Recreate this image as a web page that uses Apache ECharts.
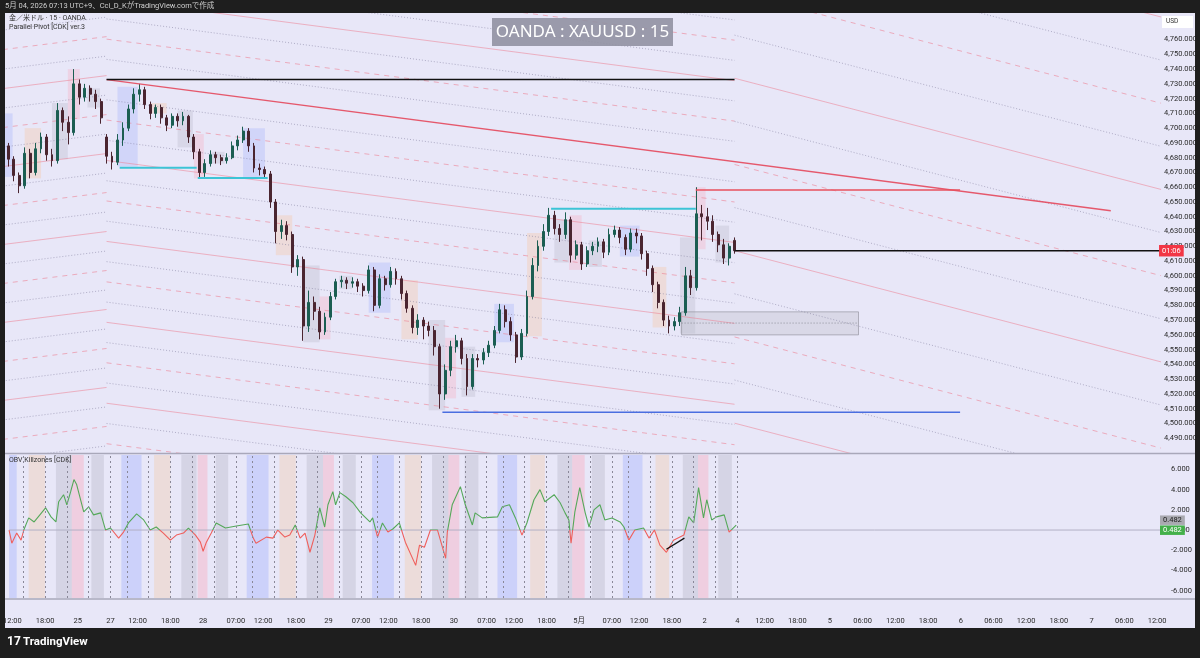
<!DOCTYPE html>
<html><head><meta charset="utf-8">
<script src="https://cdn.jsdelivr.net/npm/echarts@6/dist/echarts.min.js"></script>
<style>html,body{margin:0;padding:0;background:#1e1e1e}#c{width:1200px;height:658px}</style>
</head><body><div id="c"></div>
<script>
// ---------- DATA (hour index: 0 = Apr 25 00:00 JST, session hours only) ----------
const candleStartHour = -13;
// [open, close, low, high] one row per hour
const ohlc = [
[4696,4688,4683,4699],[4688,4679,4674,4690],[4679,4668,4664,4681],[4668,4661,4656,4670],[4661,4683,4659,4687],
[4683,4670,4666,4686],[4670,4686,4668,4690],[4686,4694,4683,4697],[4694,4682,4678,4696],[4682,4678,4674,4686],
[4678,4712,4676,4717],[4712,4704,4698,4714],[4704,4697,4689,4708],[4697,4730,4695,4740],[4730,4721,4716,4733],
[4721,4727,4718,4730],[4727,4723,4718,4729],[4723,4718,4713,4726],[4718,4707,4703,4720],
[4694,4681,4676,4696],[4681,4677,4672,4684],[4677,4692,4675,4696],[4692,4700,4688,4704],[4700,4713,4698,4716],
[4713,4723,4710,4727],[4723,4726,4718,4730],[4726,4716,4713,4728],[4716,4710,4706,4718],[4710,4714,4707,4716],
[4714,4707,4703,4716],[4707,4702,4698,4709],[4702,4708,4700,4710],[4708,4705,4701,4710],[4705,4708,4702,4711],
[4708,4694,4690,4709],[4694,4684,4679,4696],[4684,4670,4666,4686],[4670,4676,4667,4679],[4676,4682,4674,4685],
[4682,4680,4676,4684],[4680,4678,4675,4682],[4678,4680,4676,4683],[4680,4688,4679,4691],[4688,4692,4685,4695],
[4692,4698,4690,4701],[4698,4688,4684,4700],[4688,4673,4670,4690],[4673,4672,4668,4676],[4672,4669,4666,4674],
[4669,4650,4646,4671],[4650,4630,4622,4652],[4630,4634,4625,4638],[4634,4628,4624,4637],[4628,4606,4602,4630],
[4606,4611,4600,4614],[4611,4566,4556,4613],[4566,4582,4562,4590],[4582,4576,4570,4586],[4576,4562,4557,4579],
[4562,4572,4560,4575],[4572,4586,4570,4589],[4586,4596,4584,4598],[4596,4597,4592,4600],[4597,4595,4591,4599],
[4595,4596,4592,4599],[4596,4593,4589,4598],[4593,4590,4586,4595],[4590,4604,4588,4607],[4604,4580,4576,4606],
[4580,4598,4578,4601],[4598,4594,4590,4600],[4594,4603,4592,4606],[4603,4598,4594,4605],[4598,4588,4584,4600],
[4588,4578,4575,4590],[4578,4565,4561,4580],[4565,4570,4560,4574],[4570,4566,4557,4572],[4566,4563,4559,4569],
[4563,4552,4546,4566],[4552,4520,4510,4554],[4520,4536,4516,4540],[4536,4552,4532,4556],[4552,4556,4548,4560],
[4556,4544,4540,4558],[4544,4525,4519,4547],[4525,4544,4523,4547],[4544,4543,4538,4547],[4543,4548,4540,4551],
[4548,4553,4545,4556],[4553,4563,4551,4566],[4563,4577,4561,4581],[4577,4569,4565,4580],[4569,4560,4556,4572],
[4560,4545,4541,4562],[4545,4561,4543,4564],[4561,4586,4559,4590],[4586,4607,4584,4612],[4607,4620,4603,4624],
[4620,4630,4617,4635],[4630,4641,4627,4646],[4641,4632,4628,4644],[4632,4628,4623,4635],[4628,4638,4625,4643],
[4638,4614,4609,4640],[4614,4621,4611,4624],[4621,4608,4604,4623],[4608,4617,4606,4620],[4617,4620,4614,4623],
[4620,4623,4616,4626],[4623,4616,4612,4625],[4616,4628,4614,4632],[4628,4631,4626,4634],[4631,4626,4622,4633],
[4626,4618,4614,4628],[4618,4629,4616,4632],[4629,4627,4622,4632],[4627,4615,4611,4629],[4615,4605,4600,4617],
[4605,4594,4589,4607],[4594,4582,4578,4596],[4582,4570,4566,4584],[4570,4566,4561,4573],[4566,4569,4563,4572],
[4569,4575,4566,4579],[4575,4600,4573,4606],[4600,4592,4587,4604],[4592,4642,4590,4660],[4642,4640,4624,4648],
[4640,4637,4631,4646],[4637,4628,4623,4641],[4628,4621,4616,4630],[4621,4612,4608,4625],[4612,4620,4607,4622],
[4624,4617,4615,4626]
];
const obvTime = [-12.6,-12.1,-11.2,-10.4,-9.9,-9.0,-8.0,-5.9,-4.9,-4.0,-3.5,-2.6,-2.0,-1.3,-0.7,-0.2,1.1,2.0,2.9,4.2,5.1,6.0,7.5,8.4,9.3,10.8,12.1,13.3,14.4,15.7,17.0,18.1,19.4,20.3,21.6,22.5,23.0,23.6,24.5,25.4,27.1,29.1,31.3,32.2,32.7,34.6,35.8,36.7,38.0,38.9,39.9,40.8,41.7,42.6,43.5,44.4,45.3,45.9,46.8,47.3,48.1,49.2,50.5,51.9,53.6,54.1,55.0,55.9,56.9,57.8,59.0,60.1,62.0,62.7,63.6,64.7,66.0,66.9,67.5,67.8,68.7,69.7,70.2,71.1,72.4,72.9,74.2,77.0,77.9,79.2,80.3,81.5,82.4,83.7,84.8,85.7,87.4,88.5,89.4,90.1,90.5,91.2,92.1,93.1,93.8,94.7,95.8,96.7,98.0,99.5,100.2,101.1,102.2,103.8,104.8,105.8,106.8,108.0,109.3,111.2,112.1,113.0,113.9,114.8,115.4,116.3,117.2,118.6,119.5,120.8];
const obvValue = [0,-1.3,-0.3,-1.0,0,1.2,0.8,2.2,1.3,0.8,2.8,3.5,2.5,3.8,5.0,4.5,1.8,2.3,1.5,1.7,0,0.2,-0.8,-0.2,0.7,1.6,1.0,0,0.3,-0.3,-1.0,-0.5,-0.3,0.2,-0.5,-1.2,-2.1,-1.2,-0.3,0.7,0.2,0.4,0.6,-0.8,-1.3,-0.7,-0.8,0,-0.7,-0.5,0.5,-0.8,-0.3,-2.2,-0.5,2.2,0.3,2.5,3.8,2.5,3.7,3.3,2.7,1.7,0.8,1.2,-0.7,0.7,-0.2,0.1,0.7,-1.2,-3.5,-1.5,-1.7,0,0,-1.7,-2.8,-0.2,2.5,3.7,4.3,2.5,0.5,1.7,1.2,1.3,2.3,2.5,1.2,-0.5,0.7,3.0,4.0,2.8,3.5,2.7,1.7,1.0,-1.3,1.8,4.2,1.7,0.3,2.0,2.5,1.0,1.2,0.8,0.3,-1.0,0,0.2,-0.8,0,-1.5,-2.2,-1.0,-0.5,1.3,0.7,4.2,1.2,3.0,1.0,1.3,1.5,-0.2,0.482];
const obvLast = 0.482;
const tickHour = [-12,-6,0,6,11,17,23,29,34,40,46,52,57,63,69,75,80,86,92,98,103,109,115,121,126,132,138,144,150,156,162,168,174,180,186,192,198];
const tickLabel = ['12:00','18:00','25','27','12:00','18:00','28','07:00','12:00','18:00','29','07:00','12:00','18:00','30','07:00','12:00','18:00','5月','07:00','12:00','18:00','2','4','12:00','18:00','5','06:00','12:00','18:00','6','06:00','12:00','18:00','7','06:00','12:00'];
const obvTicks = [-6,-4,-2,0,2,4,6];
// killzone sessions
const sessionStart = [-15,-9,-4,-1.1,2.5, 8,14,19,22,25.3, 31,37,42,45,48.6, 54,60,65,68,71, 77,83,88,90.7,94.3, 100,106,111,113.8,117.5];
const sessionEnd   = [-11.2,-6,-1.1,1.1,4.8, 11.7,17,21.8,23.8,27.6, 35,40,45,47,51, 58,63,68,70,73.5, 80.6,85.7,90.7,93,96.7, 103.6,108.5,113.8,115.7,120];
const sessionKind  = ['b','o','g','r','g', 'b','o','g','r','g', 'b','o','g','r','g', 'b','o','g','r','g', 'b','o','g','r','g', 'b','o','g','r','g'];
const sessionLow   = [4667,4666,4679,4706,4714, 4674,4710,4687,4666,4676, 4666,4614,4555,4557,4591, 4575,4557,4509,4517,4518, 4555,4559,4609,4604,4606, 4613,4565,4561,4618,4609];
const sessionHigh  = [4710,4700,4717,4740,4727, 4728,4717,4712,4696,4684, 4700,4641,4607,4586,4600, 4609,4597,4570,4558,4552, 4581,4629,4638,4641,4624, 4634,4606,4626,4660,4634];
const dashHour = [-10,-6,-2,2,6,9,13,17,21,25,29,32,36,40,44,48,52,55,59,63,67,71,75,78,82,86,90,94,98,101,105,109,113,117,121];
// parallel pivot channels (three legs)
const channelStartHour  = [-13, 6, 121];
const channelEndHour    = [6, 121, 199.1];
const channelStartPrice = [4726.8, 4732.9, 4617];
const channelEndPrice   = [4735.6, 4677.4, 4541.7];
const channelStep       = [13.2, 13.7, 29.2];
const channelKMin = [-5, -8, -9];
const channelKMax = [20, 19, 5];
const trendHour  = [6, 189.9];
const trendPrice = [4732.9, 4644.1];
// horizontal levels
const levelStartHour = [6, 8.4, 22.7, 87.4, 113.9, 67.5];
const levelEndHour   = [121, 22.5, 35.5, 113.9, 162.3, 162.3];
const levelPrice     = [4733, 4673.2, 4666.2, 4645.4, 4658.1, 4507.6];
const lastPrice = 4617, lastHour = 121;
const lastPriceLabel = '01:06';
const zoneHour = [111.3, 143.7];
const zonePrice = [4560, 4575.6, 4568];
const obvSegHour = [108, 111.3];
const obvSegValue = [-1.9, -0.8];

// ---------- STYLE ----------
const BG = '#e8e7f8';
const FONT = 'Roboto, "Noto Sans CJK JP", sans-serif';
const levelColor = ['#111111','#3cc4d6','#3cc4d6','#3cc4d6','#e8505e','#4a6ee0'];
const levelWidth = [1.5,2,2,2,1.5,1.5];
const kindMain = {b:'rgba(120,145,255,0.20)', o:'rgba(250,190,140,0.28)', g:'rgba(160,160,178,0.22)', r:'rgba(255,140,165,0.22)'};
const kindBand = {b:'rgba(120,145,255,0.25)', o:'rgba(245,195,150,0.30)', g:'rgba(165,165,180,0.28)', r:'rgba(255,150,170,0.30)'};
const xMin = -12.6, xMax = 199.1;
const obvMin = -6.73, obvMax = 7.43;
const IND_TOP = 455, IND_H = 143;

const chart = echarts.init(document.getElementById('c'));

const candleData = ohlc.map((r, i) => [candleStartHour + i, r[0], r[1], r[2], r[3]]);
const obvData = obvTime.map((t, i) => [t, obvValue[i]]);

function channelSeries(seg) {
  const buckets = {solid: [], dashed: [], dotted: []};
  for (let k = channelKMin[seg]; k <= channelKMax[seg]; k++) {
    if (seg === 1 && k === 0) continue;
    const m = ((k % 4) + 4) % 4;
    const key = m === 0 ? 'solid' : (m === 2 ? 'dashed' : 'dotted');
    const off = channelStep[seg] * k;
    buckets[key].push([channelStartHour[seg], channelStartPrice[seg] - off],
                      [channelEndHour[seg], channelEndPrice[seg] - off],
                      [channelEndHour[seg], '-']);
  }
  const st = {
    solid: {color: 'rgba(236,130,148,0.55)', type: 'solid'},
    dashed: {color: 'rgba(236,130,148,0.6)', type: [5, 5]},
    dotted: {color: 'rgba(120,115,150,0.5)', type: [1, 2]}
  };
  return Object.keys(buckets).map(key => ({
    type: 'line', xAxisIndex: 0, yAxisIndex: 0, data: buckets[key], showSymbol: false, symbol: 'none',
    connectNulls: false, silent: true, z: 2,
    lineStyle: {width: 1, color: st[key].color, type: st[key].type}
  }));
}

const mainBoxes = sessionStart.map((s, i) => [
  {coord: [s, sessionLow[i]], itemStyle: {color: kindMain[sessionKind[i]]}},
  {coord: [sessionEnd[i], sessionHigh[i]]}
]);
mainBoxes.push([
  {coord: [zoneHour[0], zonePrice[0]], itemStyle: {color: 'rgba(190,190,200,0.35)', borderColor: 'rgba(140,140,150,0.6)', borderWidth: 1}},
  {coord: [zoneHour[1], zonePrice[1]]}
]);
const bands = sessionStart.map((s, i) => [
  {xAxis: s, itemStyle: {color: kindBand[sessionKind[i]]}}, {xAxis: sessionEnd[i]}
]);
const vLines = dashHour.map(t => ({xAxis: t, label: {show: false}, lineStyle: {color: '#8a8898', type: [2, 3], width: 1}}));
const hiddenLine = {color: 'rgba(0,0,0,0)', width: 0};
const valLabels = [
  {yAxis: obvLast, lineStyle: hiddenLine, label: {show: true, position: 'end', formatter: obvLast.toFixed(3), backgroundColor: '#a9a9b0', color: '#222', fontSize: 7.5, padding: [1, 3], distance: 0, offset: [-3, -5], fontFamily: FONT}},
  {yAxis: obvLast, lineStyle: hiddenLine, label: {show: true, position: 'end', formatter: obvLast.toFixed(3), backgroundColor: '#43b04a', color: '#fff', fontSize: 7.5, padding: [1, 3], distance: 0, offset: [-3, 5], fontFamily: FONT}}
];

const levelSeries = levelStartHour.map((s, i) => ({
  type: 'line', xAxisIndex: 0, yAxisIndex: 0, showSymbol: false, symbol: 'none', silent: true, z: 4,
  data: [[s, levelPrice[i]], [levelEndHour[i], levelPrice[i]]],
  lineStyle: {color: levelColor[i], width: levelWidth[i]}
}));
levelSeries[0].markArea = {silent: true, data: mainBoxes};

const comma = v => String(Math.round(v)).replace(/\B(?=(\d{3})+(?!\d))/g, ',');
const zeroStop = obvMax / (obvMax - obvMin);
const obvGradient = new echarts.graphic.LinearGradient(0, IND_TOP, 0, IND_TOP + IND_H, [
  {offset: 0, color: '#55a85a'}, {offset: zeroStop, color: '#55a85a'},
  {offset: zeroStop, color: '#ef5f5c'}, {offset: 1, color: '#ef5f5c'}
], true);

const option = {
  backgroundColor: BG,
  animation: false,
  textStyle: {fontFamily: FONT},
  grid: [
    {left: 5, top: 13, width: 1158, height: 440},
    {left: 5, top: IND_TOP, width: 1158, height: IND_H}
  ],
  xAxis: [
    {type: 'value', gridIndex: 0, min: xMin, max: xMax, show: false},
    {type: 'value', gridIndex: 1, min: xMin, max: xMax,
     axisLine: {show: false}, axisTick: {show: false}, splitLine: {show: false},
     axisLabel: {customValues: tickHour, margin: 19, fontSize: 7.5, color: '#2a2a2a', fontFamily: FONT,
       formatter: v => { const i = tickHour.indexOf(v); return i >= 0 ? tickLabel[i] : ''; }}}
  ],
  yAxis: [
    {type: 'value', gridIndex: 0, position: 'right', min: 4480, max: 4778, interval: 10,
     axisLine: {show: false}, axisTick: {show: false}, splitLine: {show: false},
     axisLabel: {margin: 3, fontSize: 7.5, color: '#2a2a2a', fontFamily: FONT,
       formatter: v => (v < 4490 || v > 4760) ? '' : comma(v) + '.000'}},
    {type: 'value', gridIndex: 1, position: 'right', min: obvMin, max: obvMax,
     axisLine: {show: false}, axisTick: {show: false}, splitLine: {show: false},
     axisLabel: {customValues: obvTicks, margin: 8, fontSize: 7.5, color: '#2a2a2a', fontFamily: FONT,
       formatter: v => Number(v).toFixed(3)}}
  ],
  series: [
    {type: 'line', xAxisIndex: 1, yAxisIndex: 1, data: [[xMin, 0], [xMax, 0]], showSymbol: false, symbol: 'none', silent: true,
     lineStyle: {color: '#b3b1c6', width: 1}, z: 2,
     markArea: {silent: true, data: bands},
     markLine: {silent: true, symbol: ['none', 'none'], z: 20, data: vLines.concat(valLabels)}},
    {type: 'line', name: 'OBV', xAxisIndex: 1, yAxisIndex: 1, data: obvData, showSymbol: false, symbol: 'none',
     lineStyle: {width: 1.1, color: obvGradient}, z: 4, silent: true},
    {type: 'line', xAxisIndex: 1, yAxisIndex: 1, data: obvSegHour.map((t, i) => [t, obvSegValue[i]]), showSymbol: false, symbol: 'none',
     silent: true, lineStyle: {color: '#111', width: 1.3}, z: 5},
    {type: 'candlestick', xAxisIndex: 0, yAxisIndex: 0, data: candleData, encode: {x: 0, y: [1, 2, 3, 4]},
     barWidth: 2.4, z: 3, silent: true,
     itemStyle: {color: '#1b5e52', color0: '#4a2530', borderColor: '#1b5e52', borderColor0: '#4a2530', borderWidth: 1}},
    ...channelSeries(0), ...channelSeries(1), ...channelSeries(2),
    {type: 'line', xAxisIndex: 0, yAxisIndex: 0, data: trendHour.map((t, i) => [t, trendPrice[i]]), showSymbol: false, symbol: 'none',
     silent: true, z: 4, lineStyle: {color: 'rgba(228,72,92,0.9)', width: 1.4}},
    ...levelSeries,
    {type: 'line', xAxisIndex: 0, yAxisIndex: 0, data: [[zoneHour[0], zonePrice[2]], [zoneHour[1], zonePrice[2]]], showSymbol: false, symbol: 'none',
     silent: true, z: 4, lineStyle: {color: 'rgba(110,110,120,0.7)', width: 1, type: [1, 2]}},
    {type: 'line', xAxisIndex: 0, yAxisIndex: 0, data: [[lastHour, lastPrice], [xMax, lastPrice]], showSymbol: false, symbol: 'none',
     silent: true, z: 6, lineStyle: {color: '#111', width: 1.5},
     markLine: {silent: true, symbol: ['none', 'none'], z: 20, data: [
       {yAxis: lastPrice, lineStyle: hiddenLine, label: {show: true, position: 'end', formatter: lastPriceLabel, backgroundColor: '#f23645', color: '#fff', fontSize: 7.5, padding: [2, 3], distance: 0, offset: [-2, 0], fontFamily: FONT}}
     ]}}
  ],
  graphic: [
    {type: 'rect', z: 100, shape: {x: 0, y: 0, width: 1200, height: 13}, style: {fill: '#1e1e1e'}},
    {type: 'rect', z: 100, shape: {x: 0, y: 628, width: 1200, height: 30}, style: {fill: '#1e1e1e'}},
    {type: 'rect', z: 100, shape: {x: 0, y: 0, width: 5, height: 658}, style: {fill: '#1e1e1e'}},
    {type: 'rect', z: 100, shape: {x: 1195, y: 0, width: 5, height: 658}, style: {fill: '#1e1e1e'}},
    {type: 'line', z: 100, shape: {x1: 5, y1: 453.5, x2: 1195, y2: 453.5}, style: {stroke: '#a9a8ba', lineWidth: 1.5}},
    {type: 'line', z: 100, shape: {x1: 5, y1: 599, x2: 1195, y2: 599}, style: {stroke: '#a9a8ba', lineWidth: 1.5}},
    {type: 'text', z: 101, x: 5, y: 2, style: {text: '5月 04, 2026 07:13 UTC+9、Cci_D_KがTradingView.comで作成', fill: '#cfcfcf', fontSize: 7.5, fontFamily: FONT}},
    {type: 'text', z: 101, x: 9, y: 15, style: {text: '金／米ドル · 15 · OANDA', fill: '#333', fontSize: 7, fontFamily: FONT}},
    {type: 'text', z: 101, x: 9, y: 24, style: {text: 'Parallel Pivot [CDK] ver.3', fill: '#333', fontSize: 7, fontFamily: FONT}},
    {type: 'text', z: 101, x: 9, y: 457, style: {text: 'OBV Killzones [CDK]', fill: '#333', fontSize: 7, fontFamily: FONT}},
    {type: 'rect', z: 101, shape: {x: 492, y: 18, width: 181, height: 28}, style: {fill: 'rgba(145,145,162,0.9)'}},
    {type: 'text', z: 102, x: 582.5, y: 32, style: {text: 'OANDA : XAUUSD : 15', fill: '#fff', fontSize: 17, fontFamily: '"Noto Sans", sans-serif', align: 'center', verticalAlign: 'middle'}},
    {type: 'rect', z: 101, shape: {x: 1162, y: 16, width: 31, height: 12}, style: {fill: '#ffffff'}},
    {type: 'text', z: 102, x: 1166, y: 18, style: {text: 'USD', fill: '#333', fontSize: 6.5, fontFamily: FONT}},
    {type: 'text', z: 101, x: 7, y: 636, style: {text: '17', fill: '#fff', fontSize: 12, fontWeight: 'bold', fontFamily: FONT}},
    {type: 'text', z: 101, x: 23, y: 636, style: {text: 'TradingView', fill: '#fff', fontSize: 11.5, fontWeight: 'bold', fontFamily: FONT}}
  ]
};
chart.setOption(option);
</script></body></html>
